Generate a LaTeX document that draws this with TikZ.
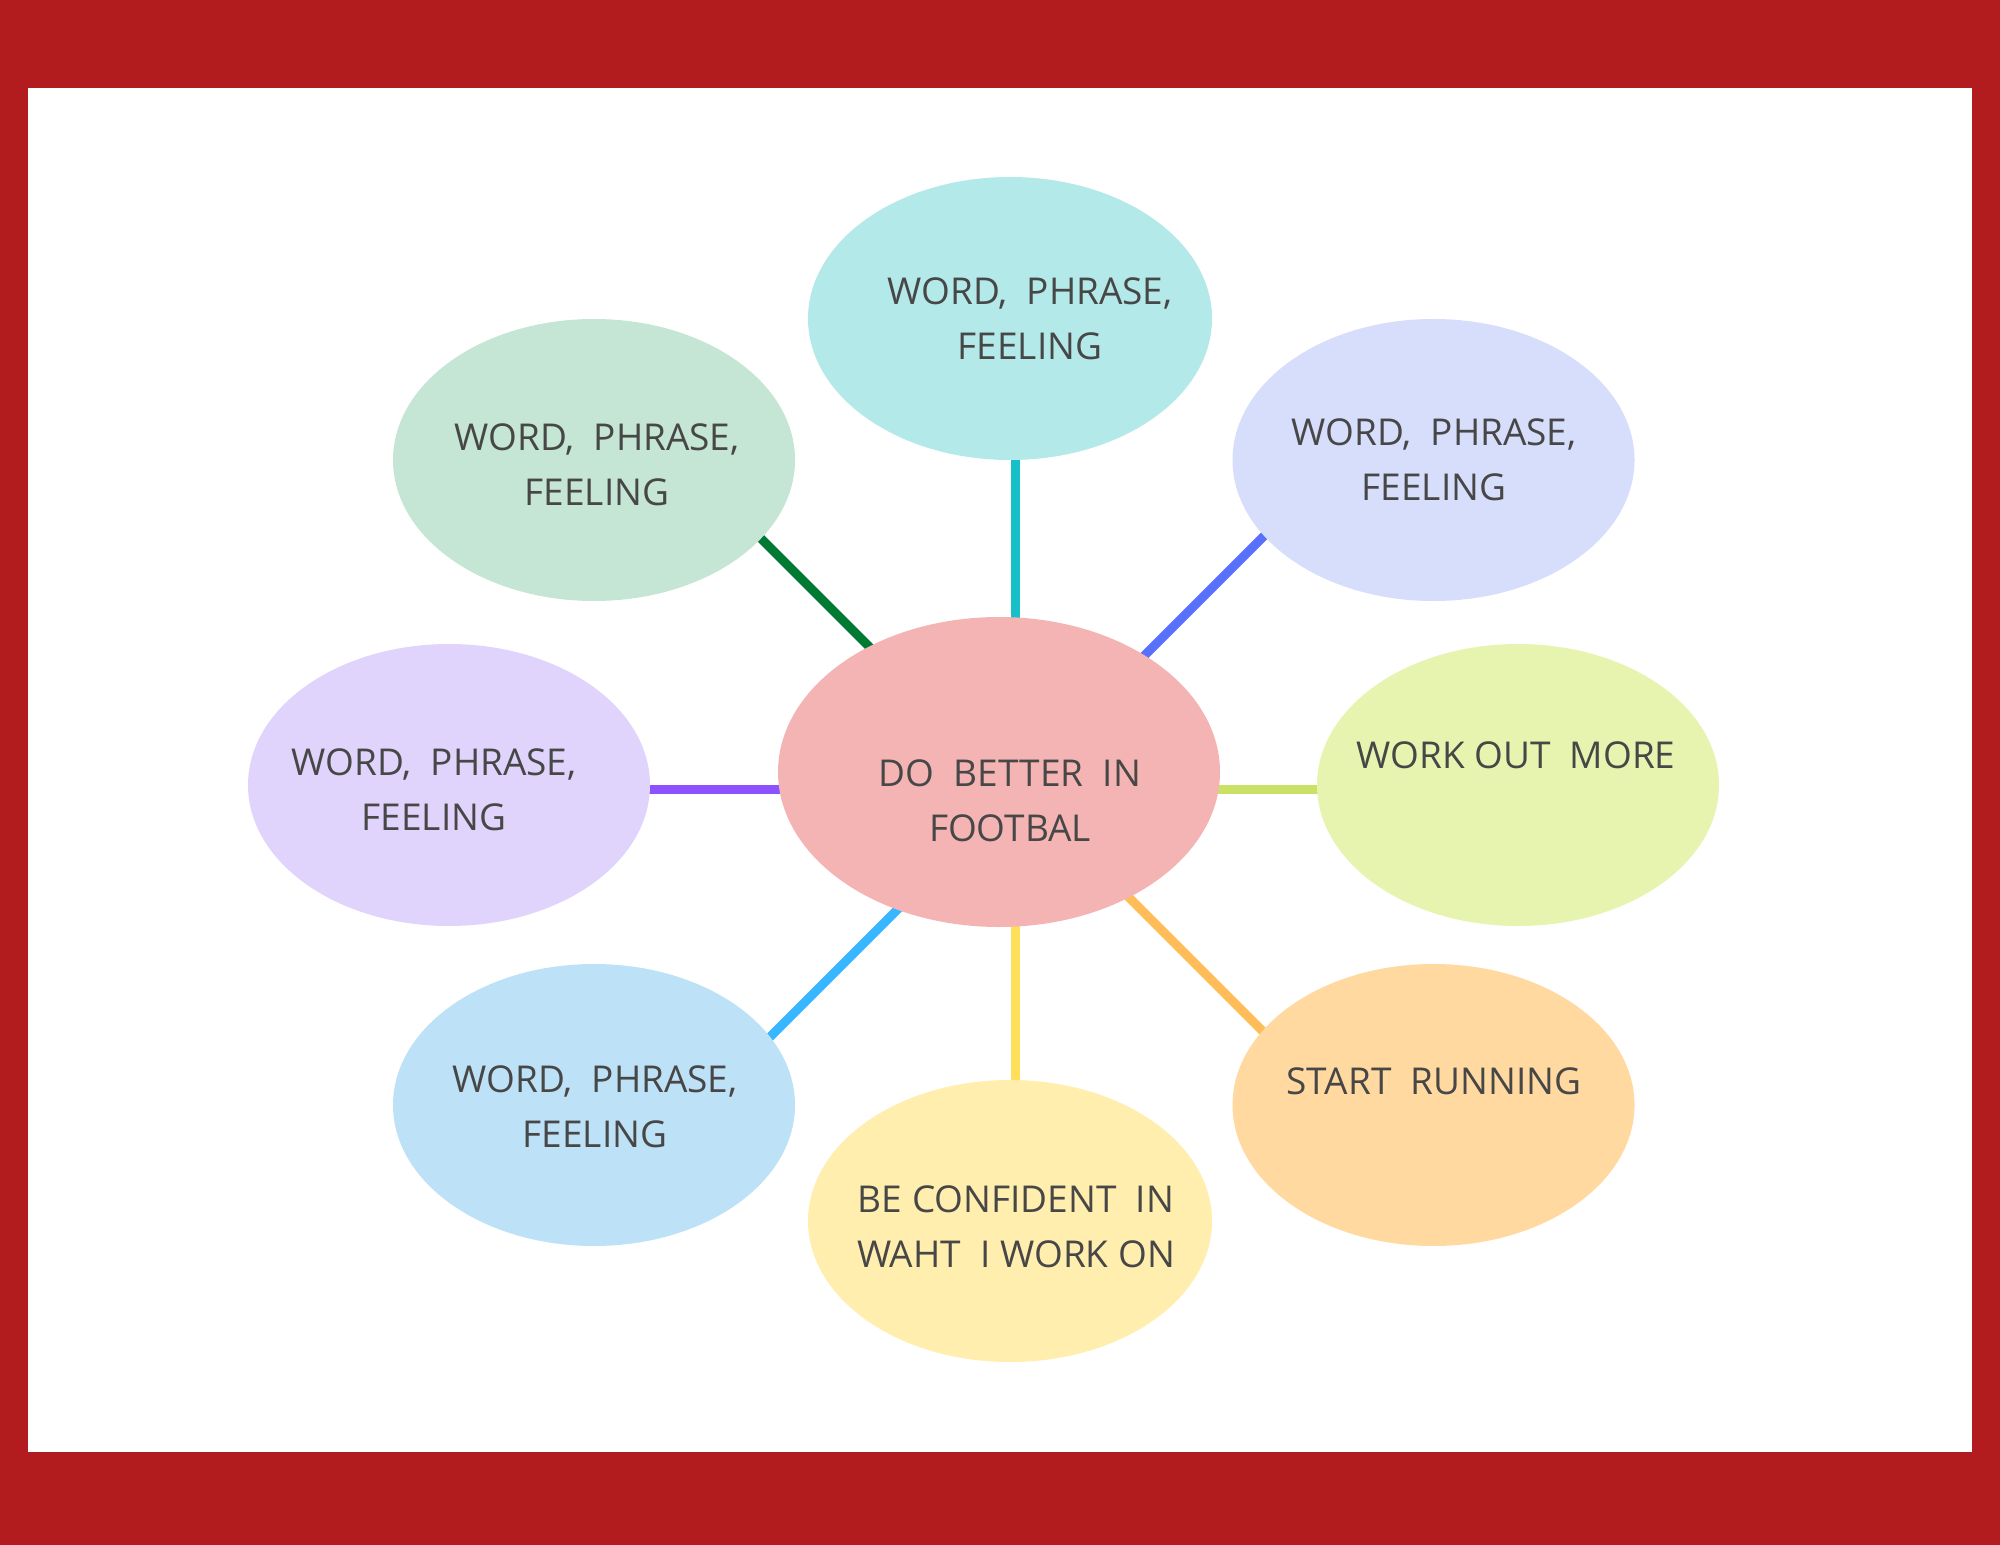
\documentclass[tikz,border=0pt]{standalone}
\usepackage{fontspec}
\setmainfont{Open Sans}
\usetikzlibrary{shapes.geometric}
\definecolor{framered}{HTML}{B31C1F}
\definecolor{textgray}{HTML}{474747}
\definecolor{fTop}{HTML}{B4E9EA}
\definecolor{fUL}{HTML}{C5E6D5}
\definecolor{fUR}{HTML}{D7DEFC}
\definecolor{fL}{HTML}{E0D4FC}
\definecolor{fR}{HTML}{E7F4AF}
\definecolor{fLL}{HTML}{BDE1F6}
\definecolor{fLR}{HTML}{FFD9A0}
\definecolor{fB}{HTML}{FFEEAE}
\definecolor{fC}{HTML}{F5B4B4}
\definecolor{lTop}{HTML}{17BFC9}
\definecolor{lUL}{HTML}{007A33}
\definecolor{lUR}{HTML}{5870FA}
\definecolor{lL}{HTML}{8C52FF}
\definecolor{lR}{HTML}{C9E265}
\definecolor{lLL}{HTML}{38B6FF}
\definecolor{lB}{HTML}{FFDE59}
\definecolor{lLR}{HTML}{FFBD59}
\begin{document}
\begin{tikzpicture}[x=0.5pt,y=-0.5pt,
  bubble/.style={ellipse, draw=none, inner sep=0pt, minimum width=201pt, minimum height=141pt},
  lbl/.style={align=center, text=textgray, inner sep=0pt, font=\fontsize{18.5}{27.5}\selectfont},
  conn/.style={line width=4.5pt, line cap=butt}]
\useasboundingbox (0,0) rectangle (2000,1545);
\fill[framered] (0,0) rectangle (2000,1545);
\fill[white] (28,88) rectangle (1972,1452);
% connector end points
\coordinate (hT) at (1015.5,789);
\coordinate (eT) at (1015.5,420);
\coordinate (hB) at (1015.5,789);
\coordinate (eB) at (1015.5,1120);
\coordinate (hL) at (1010,789);
\coordinate (eL) at (600,789);
\coordinate (hR) at (1010,789);
\coordinate (eR) at (1400,789);
\coordinate (hUL) at (1010,787.5);
\coordinate (eUL) at (732,509.5);
\coordinate (hUR) at (1011,789);
\coordinate (eUR) at (1300,500);
\coordinate (hLL) at (1015,792);
\coordinate (eLL) at (732,1075);
\coordinate (hLR) at (1015,783.5);
\coordinate (eLR) at (1300,1068.5);
% connectors
\draw[conn, lTop] (hT) -- (eT);
\draw[conn, lB] (hB) -- (eB);
\draw[conn, lL] (hL) -- (eL);
\draw[conn, lR] (hR) -- (eR);
\draw[conn, lUL] (hUL) -- (eUL);
\draw[conn, lUR] (hUR) -- (eUR);
\draw[conn, lLL] (hLL) -- (eLL);
\draw[conn, lLR] (hLR) -- (eLR);
% bubbles
\node[bubble, fill=fTop, minimum width=202pt, minimum height=141.5pt] (top) at (1010,318.5) {};
\node[bubble, fill=fUL] (ul) at (594,460) {};
\node[bubble, fill=fUR] (ur) at (1433.5,460) {};
\node[bubble, fill=fL] (left) at (449,785) {};
\node[bubble, fill=fR] (right) at (1518,785) {};
\node[bubble, fill=fLL] (ll) at (594,1105) {};
\node[bubble, fill=fLR] (lr) at (1433.5,1105) {};
\node[bubble, fill=fB, minimum width=202pt, minimum height=141pt] (bot) at (1010,1221) {};
\node[bubble, fill=fC, minimum width=221pt, minimum height=155pt] (c) at (999,772) {};
% labels
\node[lbl] (tTop) at (1030,318.5) {WORD,~ PHRASE,\\FEELING};
\node[lbl] (tUL) at (597,465) {WORD,~ PHRASE,\\FEELING};
\node[lbl] (tUR) at (1434,460) {WORD,~ PHRASE,\\FEELING};
\node[lbl] (tL) at (434,789.5) {WORD,~ PHRASE,\\FEELING};
\node[lbl] (tLL) at (595,1107) {WORD,~ PHRASE,\\FEELING};
\node[lbl] (tR) at (1516,755.5) {WORK OUT~ MORE};
\node[lbl] (tLR) at (1434,1081) {START~ RUNNING};
\node[lbl] (tB) at (1016,1227) {BE CONFIDENT~ IN\\WAHT~ I WORK ON};
\node[lbl] (tC) at (1010,800.5) {DO~ BETTER~ IN\\FOOTBAL};
\end{tikzpicture}
\end{document}
